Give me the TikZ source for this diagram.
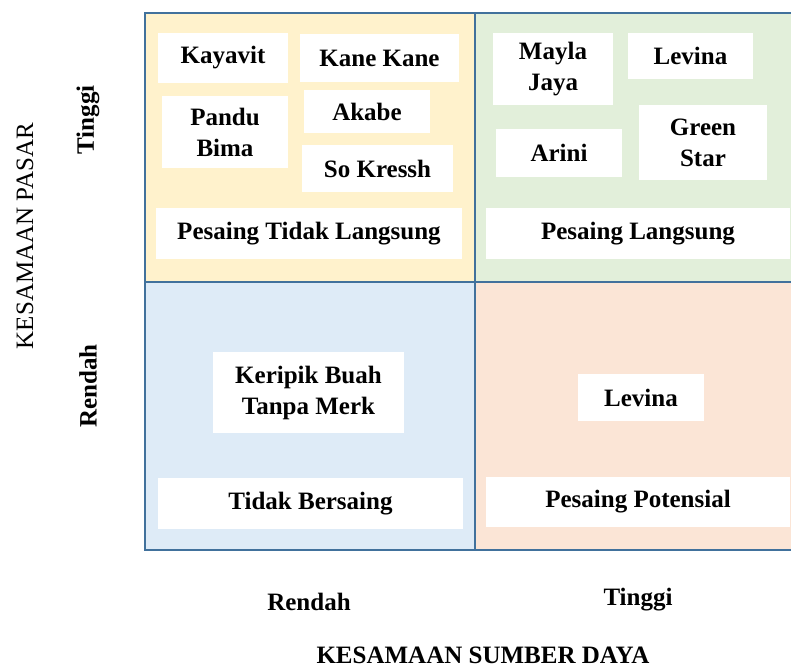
\documentclass[tikz,border=0pt]{standalone}
\usepackage{fontspec}
\setmainfont{Liberation Serif}
\definecolor{qyellow}{HTML}{FFF2CC}
\definecolor{qgreen}{HTML}{E2EFDA}
\definecolor{qblue}{HTML}{DEEBF7}
\definecolor{qorange}{HTML}{FBE5D6}
\definecolor{qborder}{HTML}{41719C}
\begin{document}
\begin{tikzpicture}[x=0.5pt,y=-0.5pt,
  quad/.style={draw=qborder,line width=0.8pt},
  wbox/.style={fill=white,draw=none,inner sep=0pt,align=center,
    font=\fontsize{12.5}{15.5}\selectfont\bfseries},
  axlab/.style={inner sep=0pt,font=\fontsize{12.5}{15.5}\selectfont\bfseries},
  axtitle/.style={inner sep=0pt,font=\fontsize{12.5}{15.5}\selectfont}]
\clip (0,0) rectangle (791,666);
\fill[white] (0,0) rectangle (791,666);
% quadrants
\draw[quad,fill=qyellow] (145,13) rectangle (475,282);
\draw[quad,fill=qgreen] (475,13) rectangle (805,282);
\draw[quad,fill=qblue] (145,282) rectangle (475,550);
\draw[quad,fill=qorange] (475,282) rectangle (805,550);
% top-left
\node[wbox,minimum width=65pt,minimum height=25pt] (kayavit) at (223,58) {Kayavit};
\node[wbox,minimum width=79.5pt,minimum height=24pt] (kane) at (379.5,58) {Kane Kane};
\node[wbox,minimum width=63pt,minimum height=36pt] (pandu) at (225,132) {Pandu\\Bima};
\node[wbox,minimum width=63pt,minimum height=21.5pt] (akabe) at (367,111.5) {Akabe};
\node[wbox,minimum width=75.5pt,minimum height=23.5pt] (kressh) at (377.5,168.5) {So Kressh};
\node[wbox,minimum width=153pt,minimum height=25.5pt] (ptl) at (309,233.5) {Pesaing Tidak Langsung};
% top-right
\node[wbox,minimum width=60pt,minimum height=36pt] (mayla) at (553,69) {Mayla\\Jaya};
\node[wbox,minimum width=62.5pt,minimum height=23pt] (levina) at (690.5,56) {Levina};
\node[wbox,minimum width=63pt,minimum height=24pt] (arini) at (559,153) {Arini};
\node[wbox,minimum width=64pt,minimum height=37.5pt] (green) at (703,142.5) {Green\\Star};
\node[wbox,minimum width=152pt,minimum height=25.5pt] (pl) at (638,233.5) {Pesaing Langsung};
% bottom-left
\node[wbox,minimum width=95.5pt,minimum height=40.5pt] (keripik) at (308.5,392.5) {Keripik Buah\\Tanpa Merk};
\node[wbox,minimum width=152.5pt,minimum height=25.5pt] (tb) at (310.5,503.5) {Tidak Bersaing};
% bottom-right
\node[wbox,minimum width=63pt,minimum height=23.5pt] (levina2) at (641,397.5) {Levina};
\node[wbox,minimum width=152pt,minimum height=25pt] (pp) at (638,502) {Pesaing Potensial};
% axis labels
\node[axtitle,rotate=90] (kp) at (25,236) {KESAMAAN PASAR};
\node[axlab,rotate=90] (ytinggi) at (88,120) {Tinggi};
\node[axlab,rotate=90] (yrendah) at (88,386) {Rendah};
\node[axlab] (xrendah) at (309,602) {Rendah};
\node[axlab] (xtinggi) at (638,600) {Tinggi};
\node[axlab] (ksd) at (483,655) {KESAMAAN SUMBER DAYA};
\end{tikzpicture}
\end{document}
